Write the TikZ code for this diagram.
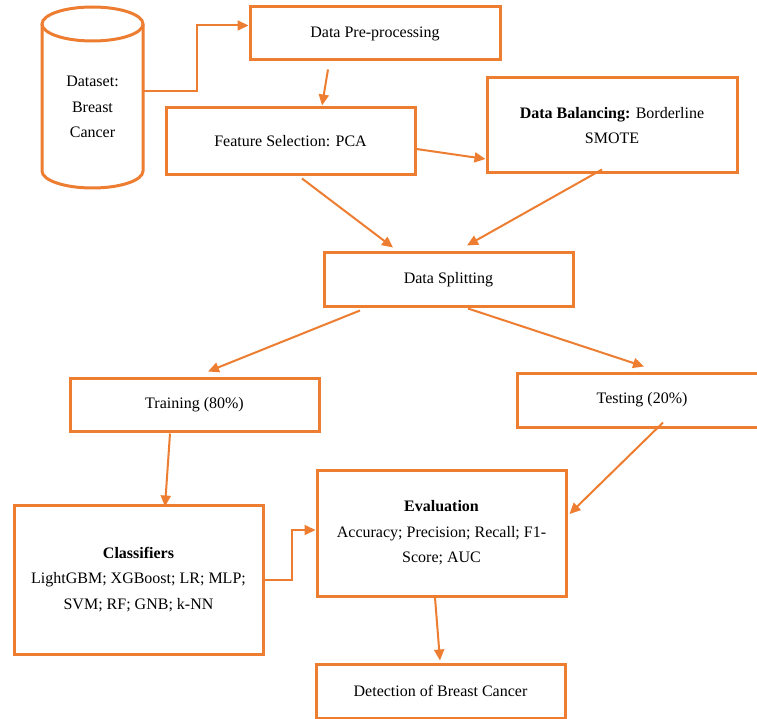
\documentclass[tikz,border=0pt]{standalone}
\usepackage{fontspec}
\setmainfont{Liberation Serif}
\usetikzlibrary{arrows.meta,calc}
\definecolor{acc}{HTML}{ED7D31}
\begin{document}
\begin{tikzpicture}[x=1pt,y=-1pt,
  box/.style={draw=acc,line width=3pt,rectangle,inner sep=0pt,align=center,
     font=\fontsize{16}{25.5}\selectfont,text=black},
  plain/.style={inner sep=0pt,align=center,font=\fontsize{16}{25.5}\selectfont,text=black},
  arr/.style={draw=acc,line width=2pt,-{Triangle[length=11pt,width=10pt]}},
  cyl/.style={draw=acc,line width=3pt}]
\useasboundingbox (0,0) rectangle (757,719);
\clip (0,0) rectangle (757,719);
% cylinder (drawn directly)
\draw[cyl] (42,24) -- (42,171) arc[start angle=180,end angle=360,x radius=50.5,y radius=-17] -- (143,24);
\draw[cyl] (92.5,24) ellipse[x radius=50.5,y radius=17];
\node[plain,minimum width=101pt] (ds) at (92.5,107) {Dataset:\\Breast\\Cancer};
% boxes
\node[box,minimum width=250pt,minimum height=53pt] (pre) at (375,33.5) {Data Pre-processing};
\node[box,minimum width=249pt,minimum height=67pt] (fs) at (290.5,141.5) {Feature Selection: PCA};
\node[box,minimum width=250pt,minimum height=95pt] (bal) at (612,125.5) {\textbf{Data Balancing:} Borderline\\SMOTE};
\node[box,minimum width=249pt,minimum height=53pt] (split) at (448.5,279.5) {Data Splitting};
\node[box,minimum width=249pt,minimum height=53pt] (train) at (194.5,404.5) {Training (80\%)};
\node[box,minimum width=250pt,minimum height=54pt] (test) at (642,400) {Testing (20\%)};
\node[box,minimum width=249pt,minimum height=149pt] (cls) at (138.5,579.5) {\textbf{Classifiers}\\LightGBM; XGBoost; LR; MLP;\\SVM; RF; GNB; k-NN};
\node[box,minimum width=249pt,minimum height=126pt] (eval) at (441.5,533) {\textbf{Evaluation}\\Accuracy; Precision; Recall; F1-\\Score; AUC};
\node[box,minimum width=249pt,minimum height=54pt] (det) at (440.5,691) {Detection of Breast Cancer};
% connectors
\draw[arr] ([yshift=16pt]ds.east) -- ++(54pt,0) |- ([yshift=8pt]pre.west);
\draw[arr] ([xshift=-47pt,yshift=-8pt]pre.south) -- ([xshift=31.5pt,yshift=1pt]fs.north);
\draw[arr] ([yshift=-7.5pt]fs.east) -- ([yshift=-33.5pt]bal.west);
\draw[arr] ([xshift=11.5pt,yshift=-2pt]fs.south) -- ([xshift=-55.5pt,yshift=4pt]split.north);
\draw[arr] ([xshift=-10pt,yshift=5pt]bal.south) -- ([xshift=18.5pt,yshift=6pt]split.north);
\draw[arr] ([xshift=-88.5pt,yshift=-3pt]split.south) -- ([xshift=13.5pt,yshift=5pt]train.north);
\draw[arr] ([xshift=19.5pt,yshift=-1pt]split.south) -- ([xshift=2pt,yshift=5pt]test.north);
\draw[arr] ([xshift=-24.5pt,yshift=-1pt]train.south) -- ([xshift=26.5pt,yshift=-3pt]cls.north);
\draw[arr] (cls.east) -- ++(27pt,0) |- ([yshift=3pt]eval.west);
\draw[arr] ([xshift=21pt,yshift=6pt]test.south) -- ([xshift=2pt,yshift=19pt]eval.east);
\draw[arr] ([xshift=-6.5pt]eval.south) -- ([xshift=-0.5pt,yshift=2pt]det.north);
\end{tikzpicture}
\end{document}
